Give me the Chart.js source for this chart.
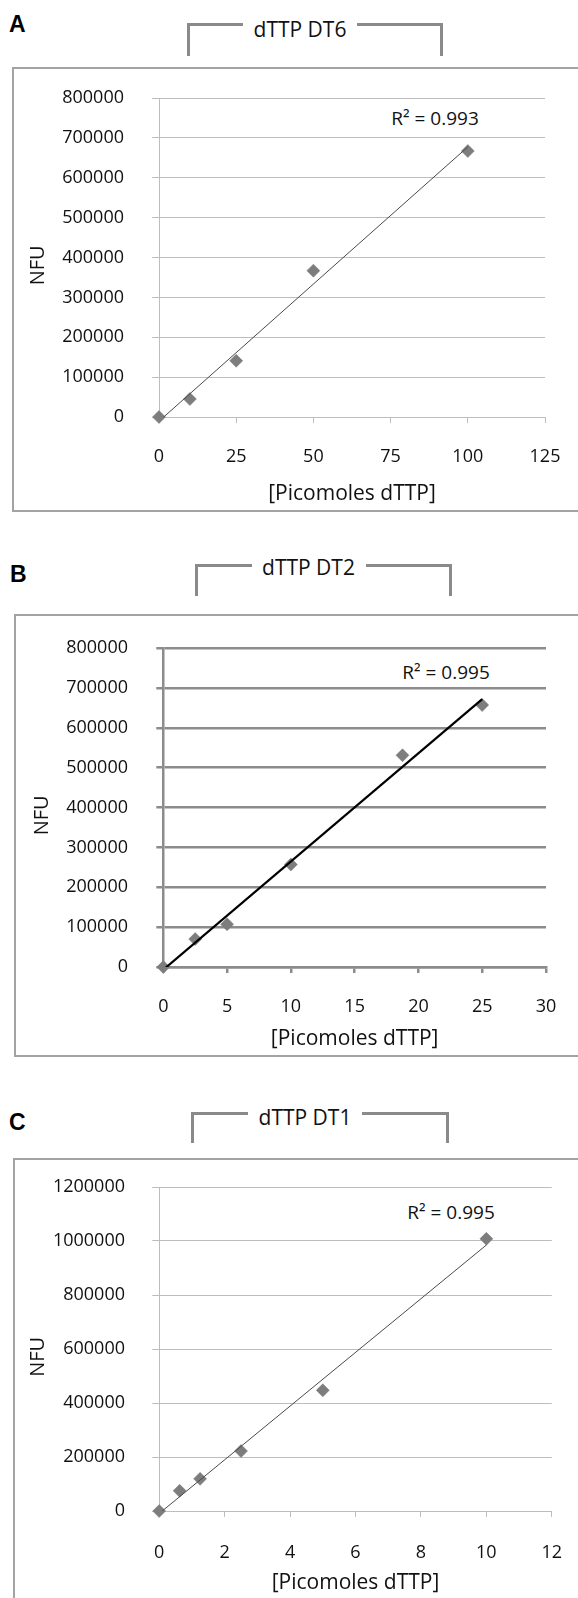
<!DOCTYPE html>
<html><head><meta charset="utf-8">
<script src="https://cdn.jsdelivr.net/npm/chart.js@4/dist/chart.umd.min.js"></script>
<style>
html,body{margin:0;padding:0;background:#fff}
body{width:578px;height:1598px;position:relative;overflow:hidden;font-family:"Open Sans",sans-serif;color:#111}
.abs{position:absolute;box-sizing:border-box}
.letter{font-family:"Liberation Sans",Arial,sans-serif;font-weight:bold;font-size:23px;line-height:1;color:#000}
.box{border:2px solid #a3a3a3;border-right:none}
.bracket{border:3px solid #8a8a8a;border-bottom:none}
.ctitle{font-size:21px;background:#fff;text-align:center;line-height:1;white-space:nowrap;transform:translateY(-50%)}
.r2{font-size:19px;line-height:1;white-space:nowrap;transform:translate(-50%,-50%)}
canvas{position:absolute}
</style></head><body>
<script>
// ---------- data ----------
const panelLetters = ['A', 'B', 'C'];
const chartTitles = ['dTTP DT6', 'dTTP DT2', 'dTTP DT1'];
const r2Labels = ['R² = 0.993', 'R² = 0.995', 'R² = 0.995'];
const xAxisTitle = '[Picomoles dTTP]';
const yAxisTitle = 'NFU';

const xA = [0, 10, 25, 50, 100];
const yA = [0, 45000, 141000, 367000, 667000];
const xTicksA = [0, 25, 50, 75, 100, 125];
const yTicksA = [0, 100000, 200000, 300000, 400000, 500000, 600000, 700000, 800000];

const xB = [0, 2.5, 5, 10, 18.75, 25];
const yB = [0, 70000, 107000, 257000, 531000, 657000];
const xTicksB = [0, 5, 10, 15, 20, 25, 30];
const yTicksB = [0, 100000, 200000, 300000, 400000, 500000, 600000, 700000, 800000];

const xC = [0, 0.625, 1.25, 2.5, 5, 10];
const yC = [0, 75000, 119000, 222000, 447000, 1008000];
const xTicksC = [0, 2, 4, 6, 8, 10, 12];
const yTicksC = [0, 200000, 400000, 600000, 800000, 1000000, 1200000];

// ---------- layout / style (page pixels) ----------
const panels = [
  { letter: panelLetters[0], title: chartTitles[0], r2: r2Labels[0], xs: xA, ys: yA, xt: xTicksA, yt: yTicksA,
    letterPos: [9, 13], box: [12, 67, 445], bracket: [187, 24, 256, 33], titleY: 29, titleShift: -15,
    r2Pos: [435, 118],
    L: 159, R: 545, T: 98, B: 417, yLabelRight: 124, yTitleX: 38.7, xLabelY: 457, xTitleY: 494,
    canvasTop: 69, canvasBottom: 511,
    grid: '#bdbdbd', gridW: 1, trend: '#4a4a4a', trendW: 1 },
  { letter: panelLetters[1], title: chartTitles[1], r2: r2Labels[1], xs: xB, ys: yB, xt: xTicksB, yt: yTicksB,
    letterPos: [10, 563], box: [14, 614, 443], bracket: [195, 565, 257, 32], titleY: 567, titleShift: -15,
    r2Pos: [446, 672],
    L: 163.3, R: 546, T: 648, B: 967, yLabelRight: 128, yTitleX: 42, xLabelY: 1007, xTitleY: 1039,
    canvasTop: 616, canvasBottom: 1056,
    grid: '#8c8c8c', gridW: 2.5, trend: '#000000', trendW: 2.2 },
  { letter: panelLetters[2], title: chartTitles[2], r2: r2Labels[2], xs: xC, ys: yC, xt: xTicksC, yt: yTicksC,
    letterPos: [9, 1111], box: [13, 1158, 460], bracket: [191, 1113, 258, 31], titleY: 1117, titleShift: -15,
    r2Pos: [451, 1212],
    L: 159.2, R: 551.8, T: 1187, B: 1511, yLabelRight: 125, yTitleX: 38, xLabelY: 1553, xTitleY: 1583,
    canvasTop: 1160, canvasBottom: 1598,
    grid: '#bdbdbd', gridW: 1, trend: '#4a4a4a', trendW: 1 }
];

const TICK_FONT = 18, X_TITLE_FONT = 21, Y_TITLE_FONT = 20, LH = 1.2;
const Y_TICK_LEN = 7, X_TICK_LEN = 6;
const TEXT = '#111';

function el(cls, style, text) {
  const d = document.createElement('div');
  d.className = 'abs ' + cls;
  Object.assign(d.style, style);
  if (text !== undefined) d.textContent = text;
  document.body.appendChild(d);
  return d;
}

function fitLine(xs, ys) {
  const n = xs.length;
  const mx = xs.reduce((a, b) => a + b, 0) / n;
  const my = ys.reduce((a, b) => a + b, 0) / n;
  let sxx = 0, sxy = 0;
  for (let i = 0; i < n; i++) { sxx += (xs[i] - mx) ** 2; sxy += (xs[i] - mx) * (ys[i] - my); }
  const m = sxy / sxx;
  return { m, b: my - m * mx };
}

function makePanel(p) {
  el('letter', { left: p.letterPos[0] + 'px', top: p.letterPos[1] + 'px' }, p.letter);
  el('box', { left: p.box[0] + 'px', top: p.box[1] + 'px', width: (590 - p.box[0]) + 'px', height: p.box[2] + 'px' });
  el('bracket', { left: p.bracket[0] + 'px', top: (p.bracket[1] - 1.5) + 'px', width: p.bracket[2] + 'px', height: p.bracket[3] + 'px' });
  const cx = p.bracket[0] + p.bracket[2] / 2 + p.titleShift;
  el('ctitle', { left: (cx - 57) + 'px', width: '114px', top: p.titleY + 'px' }, p.title);
  el('r2', { left: p.r2Pos[0] + 'px', top: p.r2Pos[1] + 'px' }, p.r2);

  const W = 578, H = p.canvasBottom - p.canvasTop;
  const cv = document.createElement('canvas');
  cv.width = W; cv.height = H;
  cv.style.left = '0px'; cv.style.top = p.canvasTop + 'px';
  cv.style.width = W + 'px'; cv.style.height = H + 'px';
  document.body.appendChild(cv);

  const lhT = TICK_FONT * LH, lhX = X_TITLE_FONT * LH, lhY = Y_TITLE_FONT * LH;
  const padLeft = p.yTitleX - lhY / 2;
  const yAxisW = p.L - padLeft;
  const yTickPad = p.L - Y_TICK_LEN - p.yLabelRight;
  const xAxisH = p.xTitleY - p.B + lhX / 2;
  const padBottom = p.canvasBottom - p.B - xAxisH;
  const xTickPad = p.xLabelY - p.B - X_TICK_LEN - lhT / 2;

  const pts = p.xs.map((x, i) => ({ x, y: p.ys[i] }));
  const fit = fitLine(p.xs, p.ys);
  const xmax = Math.max(...p.xs);
  const trend = [{ x: 0, y: fit.b }, { x: xmax, y: fit.b + fit.m * xmax }];

  new Chart(cv, {
    type: 'scatter',
    data: {
      datasets: [
        { data: trend, showLine: true, borderColor: p.trend, borderWidth: p.trendW, pointRadius: 0, order: 0 },
        { data: pts, pointStyle: 'rectRot', pointRadius: 6.5, pointHoverRadius: 6.5, clip: false,
          backgroundColor: '#7d7d7d', borderColor: '#7a7a7a', borderWidth: 0.5, order: 1 }
      ]
    },
    options: {
      responsive: false, animation: false, devicePixelRatio: 1,
      layout: { padding: { left: padLeft, right: W - p.R, top: p.T - p.canvasTop, bottom: padBottom } },
      plugins: { legend: { display: false }, tooltip: { enabled: false }, title: { display: false } },
      events: [],
      scales: {
        x: {
          type: 'linear', min: p.xt[0], max: p.xt[p.xt.length - 1],
          afterBuildTicks: s => { s.ticks = p.xt.map(v => ({ value: v })); },
          afterFit: s => { s.height = xAxisH; s.paddingLeft = 0; s.paddingRight = 0; },
          grid: { drawOnChartArea: false, drawTicks: true, tickLength: X_TICK_LEN, color: p.grid, lineWidth: p.gridW },
          border: { display: true, color: p.grid, width: p.gridW },
          ticks: { padding: xTickPad, color: TEXT, font: { family: 'Open Sans', size: TICK_FONT }, maxRotation: 0, autoSkip: false, callback: v => String(v) },
          title: { display: true, text: xAxisTitle, color: TEXT, padding: 0, font: { family: 'Open Sans', size: X_TITLE_FONT } }
        },
        y: {
          type: 'linear', min: p.yt[0], max: p.yt[p.yt.length - 1],
          afterBuildTicks: s => { s.ticks = p.yt.map(v => ({ value: v })); },
          afterFit: s => { s.width = yAxisW; s.paddingTop = 0; s.paddingBottom = 0; },
          grid: { drawOnChartArea: true, drawTicks: true, tickLength: Y_TICK_LEN, color: p.grid, lineWidth: p.gridW },
          border: { display: true, color: p.grid, width: p.gridW },
          ticks: { padding: yTickPad, color: TEXT, font: { family: 'Open Sans', size: TICK_FONT }, autoSkip: false, callback: v => String(v) },
          title: { display: true, text: yAxisTitle + '\u00a0\u00a0\u00a0', color: TEXT, padding: 0, font: { family: 'Open Sans', size: Y_TITLE_FONT } }
        }
      }
    }
  });
}

panels.forEach(makePanel);
</script>
</body></html>
